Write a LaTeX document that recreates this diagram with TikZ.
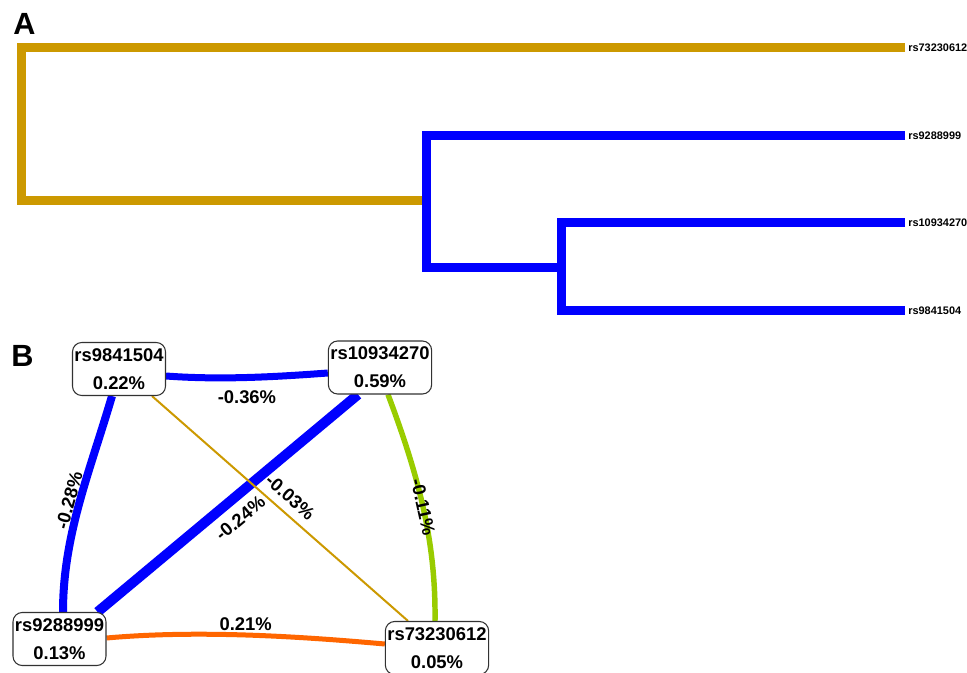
\documentclass[tikz,border=0pt]{standalone}
\usepackage{fontspec}
\setmainfont{Liberation Sans}
\usetikzlibrary{calc}
\pgfdeclarelayer{back}
\pgfdeclarelayer{edges}
\pgfsetlayers{back,edges,main}
\definecolor{goldc}{RGB}{204,153,0}
\definecolor{bluec}{RGB}{0,0,255}
\definecolor{greenc}{RGB}{153,204,0}
\definecolor{orangec}{RGB}{255,102,0}
\definecolor{boxc}{RGB}{50,50,50}
\begin{document}
\begin{tikzpicture}[x=0.75pt,y=-0.75pt,
  den/.style={line width=6.75pt, line join=miter},
  leaf/.style={anchor=west, inner sep=0pt, font=\fontsize{8.2}{9}\selectfont\bfseries},
  panel/.style={anchor=north west, inner sep=0pt, font=\fontsize{23}{23}\selectfont\bfseries},
  snp/.style={draw=boxc, line width=0.8pt, rounded corners=7pt, fill=white, align=center,
    inner xsep=1.5pt, inner ysep=4.5pt, font=\fontsize{13.8}{21}\selectfont\bfseries},
  elab/.style={inner sep=0pt, font=\fontsize{13.8}{16}\selectfont\bfseries, text=black},
]
\useasboundingbox (0,0) rectangle (967,673);
\begin{pgfonlayer}{back}
\fill[white] (0,0) rectangle (967,673);
\end{pgfonlayer}

% panel labels
\node[panel] (pa) at (13,13) {A};
\node[panel] (pb) at (11,345) {B};

% dendrogram (panel A)
\node[leaf] (l1) at (908,48) {rs73230612};
\node[leaf] (l2) at (908,136) {rs9288999};
\node[leaf] (l3) at (908,223) {rs10934270};
\node[leaf] (l4) at (908,311) {rs9841504};
\coordinate (r) at (21.5,201);
\coordinate (c1) at (426.5,201);
\coordinate (c2) at (561,267.5);
\draw[den,goldc] ($(l1.west)+(-3,0)$) -| (r) -- (c1);
\draw[den,bluec] ($(l2.west)+(-3,0)$) -| (c1) |- (c2);
\draw[den,bluec] ($(l3.west)+(-3,0)$) -| (c2) |- ($(l4.west)+(-3,0)$);

% network (panel B)
\node[snp] (n1) at (119,369) {rs9841504\\0.22\%};
\node[snp] (n2) at (380,367.5) {rs10934270\\0.59\%};
\node[snp] (n3) at (59.5,639) {rs9288999\\0.13\%};
\node[snp] (n4) at (437,648) {rs73230612\\0.05\%};

\begin{pgfonlayer}{edges}
\draw[bluec, line width=5.25pt] ($(n1.east)+(0,7)$) .. controls +(54,4) and +(-54,4) .. ($(n2.west)+(0,5.5)$)
  node[elab, pos=0.5, below=7pt] {-0.36\%};
\draw[bluec, line width=6pt] ($(n1.south)+(-7,0)$) .. controls +(-22,75) and +(0,-77) .. ($(n3.north)+(3.5,0)$)
  node[elab, pos=0.5, sloped, above=0pt] {-0.28\%};
\draw[bluec, line width=7.5pt] ($(n2.south)+(-22,0)$) -- ($(n3.north east)+(-9,0)$)
  node[elab, pos=0.5, sloped, below=6pt] {-0.24\%};
\draw[greenc, line width=4.1pt] ($(n2.south)+(8,0)$) .. controls +(30,80) and +(1,-81) .. ($(n4.north)+(-2,0)$)
  node[elab, pos=0.5, sloped] {-0.11\%};
\draw[orangec, line width=3.75pt] ($(n3.east)+(0,-1)$) .. controls +(90,-8) and +(-90,-8) .. ($(n4.west)+(0,-4)$)
  node[elab, pos=0.5, above=1.5pt] {0.21\%};
\draw[goldc, line width=1.5pt] ($(n1.south)+(33,0)$) -- ($(n4.north)+(-29,0)$)
  node[elab, pos=0.5, sloped, above=6pt] {-0.03\%};
\end{pgfonlayer}
\end{tikzpicture}
\end{document}
